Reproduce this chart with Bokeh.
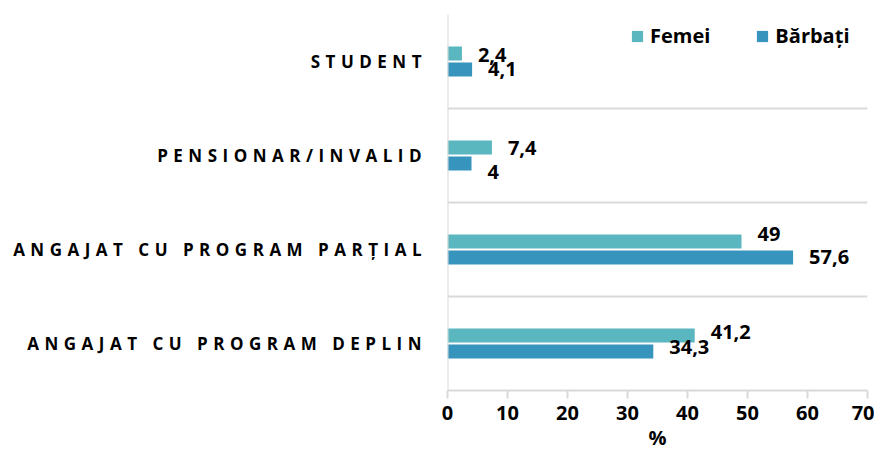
from bokeh.plotting import figure
from bokeh.layouts import row
from bokeh.models import (Range1d, FixedTicker, ColumnDataSource, Legend, LegendItem,
                          InlineStyleSheet, Span)
from bokeh.core.properties import value
from bokeh.embed import file_html
from bokeh.resources import INLINE

# ---- data (bottom to top) ----
categories = ["ANGAJAT CU PROGRAM DEPLIN", "ANGAJAT CU PROGRAM PARȚIAL",
              "PENSIONAR/INVALID", "STUDENT"]
femei = [41.2, 49, 7.4, 2.4]
barbati = [34.3, 57.6, 4, 4.1]
x_ticks = [0, 10, 20, 30, 40, 50, 60, 70]
series_names = ["Femei", "Bărbați"]
x_title = "%"

# ---- label nudges (screen px), styling only ----
nudge_f = [-4, -8, 0, 1]
nudge_b = [-4, 0, 9, 0]

C_FEM = "#5ab6bf"
C_BAR = "#3794bc"
GRID = "#d9d9d9"
NUM_FONT = "Open Sans"
CAT_FONT = "Open Sans"
BAR_H = 0.15
OFF = 0.085
LS = 5.5        # letter spacing of the category labels, px
LEFT_W = 437    # width of the label panel, px
LABEL_RIGHT = 421  # right edge of the category labels, px

def fmt(v):
    return f"{v:g}".replace(".", ",")

pos = [i + 0.5 for i in range(len(categories))]
src_f = ColumnDataSource(dict(y=[p + OFF for p in pos], x=femei,
                              lab=[fmt(v) for v in femei], dy=nudge_f))
src_b = ColumnDataSource(dict(y=[p - OFF for p in pos], x=barbati,
                              lab=[fmt(v) for v in barbati], dy=nudge_b))
src_c = ColumnDataSource(dict(y=pos, x=[LABEL_RIGHT] * len(pos), lab=categories,
                              dx=[-(len(c) - 1) * LS for c in categories]))

y_range = Range1d(0, len(categories))

# ---- left panel: letter-spaced category labels ----
spaced = InlineStyleSheet(css=f":host {{ letter-spacing: {LS}px; }}")
lp = figure(width=LEFT_W, height=454, output_backend="svg", toolbar_location=None,
            x_range=Range1d(0, LEFT_W), y_range=y_range,
            min_border_left=0, min_border_right=0, min_border_top=14, min_border_bottom=64,
            x_axis_location=None, y_axis_location=None, stylesheets=[spaced])
lp.outline_line_color = None
lp.grid.grid_line_color = None
lp.text(x="x", y="y", text="lab", source=src_c, x_offset="dx",
        text_font=value(CAT_FONT), text_font_style="bold", text_font_size="17px",
        text_color="black", text_align="right", text_baseline="middle")

# ---- main chart ----
p = figure(width=437, height=454, output_backend="svg", toolbar_location=None,
           x_range=Range1d(x_ticks[0], x_ticks[-1]), y_range=y_range, y_axis_location=None,
           min_border_left=10, min_border_right=7, min_border_top=14, min_border_bottom=64)
p.outline_line_color = None
p.background_fill_color = "white"
p.border_fill_color = "white"

rf = p.hbar(y="y", right="x", left=0, height=BAR_H, source=src_f, fill_color=C_FEM, line_color=None)
rb = p.hbar(y="y", right="x", left=0, height=BAR_H, source=src_b, fill_color=C_BAR, line_color=None)

for src in (src_f, src_b):
    p.text(x="x", y="y", text="lab", source=src, x_offset=16, y_offset="dy",
           text_font=value(NUM_FONT), text_font_style="bold", text_font_size="20px",
           text_color="black", text_align="left", text_baseline="middle")

# vertical axis line at the value origin
p.add_layout(Span(location=0, dimension="height", line_color=GRID, line_width=2))

xa = p.xaxis[0]
xa.ticker = FixedTicker(ticks=x_ticks)
xa.minor_tick_line_color = None
xa.major_tick_in = 0
xa.major_tick_out = 8
xa.major_tick_line_color = GRID
xa.major_tick_line_width = 2
xa.axis_line_color = GRID
xa.axis_line_width = 2
xa.major_label_text_font = NUM_FONT
xa.major_label_text_font_style = "bold"
xa.major_label_text_font_size = "20px"
xa.major_label_text_color = "black"
xa.major_label_standoff = 7
xa.axis_label = x_title
xa.axis_label_text_font = NUM_FONT
xa.axis_label_text_font_style = "bold"
xa.axis_label_text_font_size = "20px"
xa.axis_label_text_color = "black"
xa.axis_label_standoff = 1

p.xgrid.grid_line_color = None
p.ygrid.ticker = FixedTicker(ticks=list(range(1, len(categories) + 1)))
p.ygrid.grid_line_color = GRID
p.ygrid.grid_line_width = 2

legend = Legend(items=[LegendItem(label=series_names[0], renderers=[rf]),
                       LegendItem(label=series_names[1], renderers=[rb])],
                orientation="horizontal", location=(183, 341),
                glyph_width=14, glyph_height=14, label_standoff=6, spacing=45,
                label_height=24,
                padding=0, margin=0, border_line_color=None, background_fill_alpha=0,
                label_text_font=NUM_FONT, label_text_font_style="bold",
                label_text_font_size="20px", label_text_color="black")
p.add_layout(legend)

layout = row(lp, p, spacing=0)
open("out.html", "w").write(file_html(layout, INLINE))
